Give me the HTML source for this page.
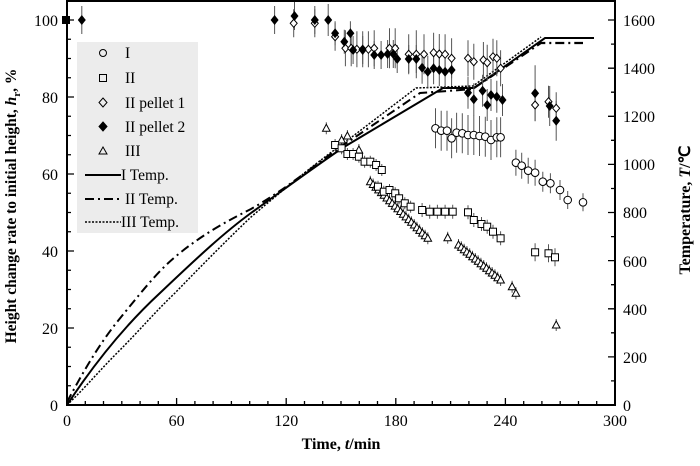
<!DOCTYPE html>
<html><head><meta charset="utf-8"><style>
html,body{margin:0;padding:0;background:#fff;}
svg{display:block;font-family:"Liberation Serif",serif;}
</style></head><body>
<svg width="700" height="466" viewBox="0 0 700 466" xmlns="http://www.w3.org/2000/svg">
<rect x="77" y="42" width="121" height="191" fill="#ececec"/>
<g fill="none" stroke="#000">
<path d="M67,405 C90,370 120,330 160,293 C200,255 225,232 251,213 C290,185 320,163 344,147 L443,88 L474,88 L545,38 L594,38" stroke-width="2"/>
<path d="M67,402 C80,378 95,350 117,322 C140,294 155,274 175,257 C200,236 225,222 251,209 C290,187 320,160 351,140 L420,93 L474,89" stroke-width="2" stroke-dasharray="9,4,2,4"/>
<path d="M474,88 L541,43 L583,43" stroke-width="2.2" stroke-dasharray="9,4,2,4"/>
<path d="M67,405 C85,388 100,370 117,353 C140,330 155,312 175,293 C205,262 230,237 251,217 C290,184 320,160 344,143 L416,88 L473,86 L541,37" stroke-width="1.5" stroke-dasharray="2,1.5"/>
</g>

<g stroke="#555" stroke-width="1" fill="none">
<path d="M326.3,122.3V134.3M341.6,134V146M347.4,130V142M358.9,144V156M370.3,175.7V187.7M373.1,178.5V190.5M375.8,181.2V193.2M378.5,183.9V195.9M381.3,186.6V198.6M384,189.3V201.3M386.8,192V204M389.5,194.7V206.7M392.2,197.4V209.4M395,200.1V212.1M397.7,202.8V214.8M400.5,205.5V217.5M403.2,208.2V220.2M405.9,210.9V222.9M408.7,213.6V225.6M411.4,216.3V228.3M414.2,219V231M416.9,221.7V233.7M419.6,224.4V236.4M422.4,227.1V239.1M425.1,229.8V241.8M427.8,232.3V244.3M447.7,231.7V243.7M458.5,239V251M461.3,241.3V253.3M464.1,243.7V255.7M466.9,246V258M469.7,248.3V260.3M472.5,250.7V262.7M475.3,253V265M478.1,255.3V267.3M480.9,257.7V269.7M483.7,260V272M486.5,262.3V274.3M489.3,264.7V276.7M492.1,267V279M494.9,269.3V281.3M497.7,271.7V283.7M500.6,274V286M512.1,280.7V292.7M515.9,287.3V299.3M556.2,319V331"/>
<path d="M335.1,139V151M341.6,142.3V154.3M347.4,148V160M353.1,148V160M358.9,150.7V162.7M364.6,155.7V167.7M370.3,155.7V167.7M376.1,159V171M381.8,164V176M378,180.7V192.7M383.8,185.7V197.7M389.5,184V196M395.2,187.3V199.3M399.1,192.3V204.3M404.8,197.3V209.3M410.6,200.7V212.7M422.1,203V217M429.7,204.7V218.7M437.4,204.7V218.7M445.1,204.7V218.7M452.7,204.7V218.7M468,205.3V219.3M473.8,213V227M481.5,217V231M487.2,219.7V233.7M493,224.7V238.7M500.6,231.3V245.3M535.1,243.3V261.3M548.5,244.3V262.3M555,248.3V266.3"/>
<path d="M435.5,108.3V148.3M441.2,110.7V150.7M447,110.7V150.7M451.6,118.3V158.3M456.6,112.7V152.7M462.3,113.3V153.3M468,115V155M473.8,115V155M479.5,116V156M485.3,116.7V156.7M491,120V160M496.8,117.3V157.3M500.6,117.3V157.3M515.9,149.7V175.7M521.7,152.7V178.7M528.2,157.7V183.7M535.1,159.7V185.7M542.8,171.7V191.7M550.4,173.3V193.3M560,180V200M567.7,191V209M583,193.3V211.3"/>
<path d="M293.7,9.3V37.3M314.8,9.3V37.3M335.1,22.7V50.7M345.4,30.3V66.3M351.2,30.3V66.3M356.9,31.3V67.3M362.7,31.3V67.3M368.4,31.3V67.3M374.2,30.3V66.3M389.5,28.3V68.3M395.2,28.3V68.3M408.7,34.3V74.3M416.3,30.3V78.3M424,34.3V74.3M433.6,32.7V72.7M439.3,34V74M445.1,34.3V74.3M451.6,38.3V78.3M468,40.3V76.3M473.8,43.7V79.7M483.4,42V78M487.2,44.7V80.7M493,38.7V74.7M496.8,40.3V76.3M500.6,50.3V86.3M535.1,89V121M548.5,85.7V117.7M556.2,92.3V124.3"/>
<path d="M81.8,6V34M274.6,6V34M294.5,2V30M314.8,6V34M328.2,4V36M335.1,21.3V45.3M344.3,29.7V53.7M350.4,21.3V45.3M353.1,36V64M362.7,36V64M374.2,41V69M381.1,41V69M387.6,40V68M393.3,40V68M397.2,45V73M408.7,45V73M416.3,45V73M422.1,51.7V83.7M427.8,55.7V87.7M433.6,52.3V84.3M439.3,54V86M445.1,55.7V87.7M451.6,54V86M468,76.7V108.7M473.8,83.3V115.3M482.6,74.7V106.7M487.2,89V121M491,79V111M496.8,80.7V112.7M502.5,84V116M535.1,65.3V121.3M549.7,86V126M556.2,100.7V140.7"/>
</g>

<g fill="#fff" stroke="#000" stroke-width="1">
<g>
<path transform="translate(326.3,128.3)" d="M0,-4L3.8,3H-3.8Z"/><path transform="translate(341.6,140)" d="M0,-4L3.8,3H-3.8Z"/><path transform="translate(347.4,136)" d="M0,-4L3.8,3H-3.8Z"/><path transform="translate(358.9,150)" d="M0,-4L3.8,3H-3.8Z"/>
<path transform="translate(370.3,181.7)" d="M0,-4L3.8,3H-3.8Z"/><path transform="translate(373.1,184.5)" d="M0,-4L3.8,3H-3.8Z"/><path transform="translate(375.8,187.2)" d="M0,-4L3.8,3H-3.8Z"/><path transform="translate(378.5,189.9)" d="M0,-4L3.8,3H-3.8Z"/><path transform="translate(381.3,192.6)" d="M0,-4L3.8,3H-3.8Z"/><path transform="translate(384,195.3)" d="M0,-4L3.8,3H-3.8Z"/><path transform="translate(386.8,198)" d="M0,-4L3.8,3H-3.8Z"/><path transform="translate(389.5,200.7)" d="M0,-4L3.8,3H-3.8Z"/><path transform="translate(392.2,203.4)" d="M0,-4L3.8,3H-3.8Z"/><path transform="translate(395,206.1)" d="M0,-4L3.8,3H-3.8Z"/><path transform="translate(397.7,208.8)" d="M0,-4L3.8,3H-3.8Z"/><path transform="translate(400.5,211.5)" d="M0,-4L3.8,3H-3.8Z"/><path transform="translate(403.2,214.2)" d="M0,-4L3.8,3H-3.8Z"/><path transform="translate(405.9,216.9)" d="M0,-4L3.8,3H-3.8Z"/><path transform="translate(408.7,219.6)" d="M0,-4L3.8,3H-3.8Z"/><path transform="translate(411.4,222.3)" d="M0,-4L3.8,3H-3.8Z"/><path transform="translate(414.2,225)" d="M0,-4L3.8,3H-3.8Z"/><path transform="translate(416.9,227.7)" d="M0,-4L3.8,3H-3.8Z"/><path transform="translate(419.6,230.4)" d="M0,-4L3.8,3H-3.8Z"/><path transform="translate(422.4,233.1)" d="M0,-4L3.8,3H-3.8Z"/><path transform="translate(425.1,235.8)" d="M0,-4L3.8,3H-3.8Z"/><path transform="translate(427.8,238.3)" d="M0,-4L3.8,3H-3.8Z"/>
<path transform="translate(447.7,237.7)" d="M0,-4L3.8,3H-3.8Z"/>
<path transform="translate(458.5,245)" d="M0,-4L3.8,3H-3.8Z"/><path transform="translate(461.3,247.3)" d="M0,-4L3.8,3H-3.8Z"/><path transform="translate(464.1,249.7)" d="M0,-4L3.8,3H-3.8Z"/><path transform="translate(466.9,252)" d="M0,-4L3.8,3H-3.8Z"/><path transform="translate(469.7,254.3)" d="M0,-4L3.8,3H-3.8Z"/><path transform="translate(472.5,256.7)" d="M0,-4L3.8,3H-3.8Z"/><path transform="translate(475.3,259)" d="M0,-4L3.8,3H-3.8Z"/><path transform="translate(478.1,261.3)" d="M0,-4L3.8,3H-3.8Z"/><path transform="translate(480.9,263.7)" d="M0,-4L3.8,3H-3.8Z"/><path transform="translate(483.7,266)" d="M0,-4L3.8,3H-3.8Z"/><path transform="translate(486.5,268.3)" d="M0,-4L3.8,3H-3.8Z"/><path transform="translate(489.3,270.7)" d="M0,-4L3.8,3H-3.8Z"/><path transform="translate(492.1,273)" d="M0,-4L3.8,3H-3.8Z"/><path transform="translate(494.9,275.3)" d="M0,-4L3.8,3H-3.8Z"/><path transform="translate(497.7,277.7)" d="M0,-4L3.8,3H-3.8Z"/><path transform="translate(500.6,280)" d="M0,-4L3.8,3H-3.8Z"/>
<path transform="translate(512.1,286.7)" d="M0,-4L3.8,3H-3.8Z"/><path transform="translate(515.9,293.3)" d="M0,-4L3.8,3H-3.8Z"/><path transform="translate(556.2,325)" d="M0,-4L3.8,3H-3.8Z"/>
</g>
<g>
<rect x="331.6" y="141.5" width="7" height="7"/><rect x="338.1" y="144.8" width="7" height="7"/><rect x="343.9" y="150.5" width="7" height="7"/><rect x="349.6" y="150.5" width="7" height="7"/><rect x="355.4" y="153.2" width="7" height="7"/><rect x="361.1" y="158.2" width="7" height="7"/><rect x="366.8" y="158.2" width="7" height="7"/><rect x="372.6" y="161.5" width="7" height="7"/><rect x="378.3" y="166.5" width="7" height="7"/><rect x="374.5" y="183.2" width="7" height="7"/><rect x="380.3" y="188.2" width="7" height="7"/><rect x="386" y="186.5" width="7" height="7"/><rect x="391.7" y="189.8" width="7" height="7"/><rect x="395.6" y="194.8" width="7" height="7"/><rect x="401.3" y="199.8" width="7" height="7"/><rect x="407.1" y="203.2" width="7" height="7"/><rect x="418.6" y="206.5" width="7" height="7"/><rect x="426.2" y="208.2" width="7" height="7"/><rect x="433.9" y="208.2" width="7" height="7"/><rect x="441.6" y="208.2" width="7" height="7"/><rect x="449.2" y="208.2" width="7" height="7"/><rect x="464.5" y="208.8" width="7" height="7"/><rect x="470.3" y="216.5" width="7" height="7"/><rect x="478" y="220.5" width="7" height="7"/><rect x="483.7" y="223.2" width="7" height="7"/><rect x="489.5" y="228.2" width="7" height="7"/><rect x="497.1" y="234.8" width="7" height="7"/><rect x="531.6" y="248.8" width="7" height="7"/><rect x="545" y="249.8" width="7" height="7"/><rect x="551.5" y="253.8" width="7" height="7"/>
</g>
<g>
<circle cx="435.5" cy="128.3" r="3.8"/><circle cx="441.2" cy="130.7" r="3.8"/><circle cx="447" cy="130.7" r="3.8"/><circle cx="451.6" cy="138.3" r="3.8"/><circle cx="456.6" cy="132.7" r="3.8"/><circle cx="462.3" cy="133.3" r="3.8"/><circle cx="468" cy="135" r="3.8"/><circle cx="473.8" cy="135" r="3.8"/><circle cx="479.5" cy="136" r="3.8"/><circle cx="485.3" cy="136.7" r="3.8"/><circle cx="491" cy="140" r="3.8"/><circle cx="496.8" cy="137.3" r="3.8"/><circle cx="500.6" cy="137.3" r="3.8"/><circle cx="515.9" cy="162.7" r="3.8"/><circle cx="521.7" cy="165.7" r="3.8"/><circle cx="528.2" cy="170.7" r="3.8"/><circle cx="535.1" cy="172.7" r="3.8"/><circle cx="542.8" cy="181.7" r="3.8"/><circle cx="550.4" cy="183.3" r="3.8"/><circle cx="560" cy="190" r="3.8"/><circle cx="567.7" cy="200" r="3.8"/><circle cx="583" cy="202.3" r="3.8"/>
</g>
<g>
<path transform="translate(293.7,23.3)" d="M0,-4L3.5,0L0,4L-3.5,0Z"/><path transform="translate(314.8,23.3)" d="M0,-4L3.5,0L0,4L-3.5,0Z"/><path transform="translate(335.1,36.7)" d="M0,-4L3.5,0L0,4L-3.5,0Z"/><path transform="translate(345.4,48.3)" d="M0,-4L3.5,0L0,4L-3.5,0Z"/><path transform="translate(351.2,48.3)" d="M0,-4L3.5,0L0,4L-3.5,0Z"/><path transform="translate(356.9,49.3)" d="M0,-4L3.5,0L0,4L-3.5,0Z"/><path transform="translate(362.7,49.3)" d="M0,-4L3.5,0L0,4L-3.5,0Z"/><path transform="translate(368.4,49.3)" d="M0,-4L3.5,0L0,4L-3.5,0Z"/><path transform="translate(374.2,48.3)" d="M0,-4L3.5,0L0,4L-3.5,0Z"/><path transform="translate(389.5,48.3)" d="M0,-4L3.5,0L0,4L-3.5,0Z"/><path transform="translate(395.2,48.3)" d="M0,-4L3.5,0L0,4L-3.5,0Z"/><path transform="translate(408.7,54.3)" d="M0,-4L3.5,0L0,4L-3.5,0Z"/><path transform="translate(416.3,54.3)" d="M0,-4L3.5,0L0,4L-3.5,0Z"/><path transform="translate(424,54.3)" d="M0,-4L3.5,0L0,4L-3.5,0Z"/><path transform="translate(433.6,52.7)" d="M0,-4L3.5,0L0,4L-3.5,0Z"/><path transform="translate(439.3,54)" d="M0,-4L3.5,0L0,4L-3.5,0Z"/><path transform="translate(445.1,54.3)" d="M0,-4L3.5,0L0,4L-3.5,0Z"/><path transform="translate(451.6,58.3)" d="M0,-4L3.5,0L0,4L-3.5,0Z"/><path transform="translate(468,58.3)" d="M0,-4L3.5,0L0,4L-3.5,0Z"/><path transform="translate(473.8,61.7)" d="M0,-4L3.5,0L0,4L-3.5,0Z"/><path transform="translate(483.4,60)" d="M0,-4L3.5,0L0,4L-3.5,0Z"/><path transform="translate(487.2,62.7)" d="M0,-4L3.5,0L0,4L-3.5,0Z"/><path transform="translate(493,56.7)" d="M0,-4L3.5,0L0,4L-3.5,0Z"/><path transform="translate(496.8,58.3)" d="M0,-4L3.5,0L0,4L-3.5,0Z"/><path transform="translate(500.6,68.3)" d="M0,-4L3.5,0L0,4L-3.5,0Z"/><path transform="translate(535.1,105)" d="M0,-4L3.5,0L0,4L-3.5,0Z"/><path transform="translate(548.5,101.7)" d="M0,-4L3.5,0L0,4L-3.5,0Z"/><path transform="translate(556.2,108.3)" d="M0,-4L3.5,0L0,4L-3.5,0Z"/>
</g>
<g fill="#000" stroke="none">
<path transform="translate(81.8,20)" d="M0,-5L4,0L0,5L-4,0Z"/><path transform="translate(274.6,20)" d="M0,-5L4,0L0,5L-4,0Z"/><path transform="translate(294.5,16)" d="M0,-5L4,0L0,5L-4,0Z"/><path transform="translate(314.8,20)" d="M0,-5L4,0L0,5L-4,0Z"/><path transform="translate(328.2,20)" d="M0,-5L4,0L0,5L-4,0Z"/><path transform="translate(335.1,33.3)" d="M0,-5L4,0L0,5L-4,0Z"/><path transform="translate(344.3,41.7)" d="M0,-5L4,0L0,5L-4,0Z"/><path transform="translate(350.4,33.3)" d="M0,-5L4,0L0,5L-4,0Z"/><path transform="translate(353.1,50)" d="M0,-5L4,0L0,5L-4,0Z"/><path transform="translate(362.7,50)" d="M0,-5L4,0L0,5L-4,0Z"/><path transform="translate(374.2,55)" d="M0,-5L4,0L0,5L-4,0Z"/><path transform="translate(381.1,55)" d="M0,-5L4,0L0,5L-4,0Z"/><path transform="translate(387.6,54)" d="M0,-5L4,0L0,5L-4,0Z"/><path transform="translate(393.3,54)" d="M0,-5L4,0L0,5L-4,0Z"/><path transform="translate(397.2,59)" d="M0,-5L4,0L0,5L-4,0Z"/><path transform="translate(408.7,59)" d="M0,-5L4,0L0,5L-4,0Z"/><path transform="translate(416.3,59)" d="M0,-5L4,0L0,5L-4,0Z"/><path transform="translate(422.1,67.7)" d="M0,-5L4,0L0,5L-4,0Z"/><path transform="translate(427.8,71.7)" d="M0,-5L4,0L0,5L-4,0Z"/><path transform="translate(433.6,68.3)" d="M0,-5L4,0L0,5L-4,0Z"/><path transform="translate(439.3,70)" d="M0,-5L4,0L0,5L-4,0Z"/><path transform="translate(445.1,71.7)" d="M0,-5L4,0L0,5L-4,0Z"/><path transform="translate(451.6,70)" d="M0,-5L4,0L0,5L-4,0Z"/><path transform="translate(468,92.7)" d="M0,-5L4,0L0,5L-4,0Z"/><path transform="translate(473.8,99.3)" d="M0,-5L4,0L0,5L-4,0Z"/><path transform="translate(482.6,90.7)" d="M0,-5L4,0L0,5L-4,0Z"/><path transform="translate(487.2,105)" d="M0,-5L4,0L0,5L-4,0Z"/><path transform="translate(491,95)" d="M0,-5L4,0L0,5L-4,0Z"/><path transform="translate(496.8,96.7)" d="M0,-5L4,0L0,5L-4,0Z"/><path transform="translate(502.5,100)" d="M0,-5L4,0L0,5L-4,0Z"/><path transform="translate(535.1,93.3)" d="M0,-5L4,0L0,5L-4,0Z"/><path transform="translate(549.7,106)" d="M0,-5L4,0L0,5L-4,0Z"/><path transform="translate(556.2,120.7)" d="M0,-5L4,0L0,5L-4,0Z"/>
<rect x="62" y="16" width="8" height="8"/>
</g>
</g>

<rect x="67" y="1" width="548" height="404" stroke="#000" stroke-width="2" fill="none"/>
<g stroke="#000" stroke-width="1.3" fill="none">
<path d="M67,405v-7M85.3,405v-4M103.5,405v-4M121.8,405v-4M140.1,405v-4M158.3,405v-4M176.6,405v-7M194.9,405v-4M213.1,405v-4M231.4,405v-4M249.7,405v-4M267.9,405v-4M286.2,405v-7M304.5,405v-4M322.7,405v-4M341,405v-4M359.3,405v-4M377.5,405v-4M395.8,405v-7M414.1,405v-4M432.3,405v-4M450.6,405v-4M468.9,405v-4M487.1,405v-4M505.4,405v-7M523.7,405v-4M541.9,405v-4M560.2,405v-4M578.5,405v-4M596.7,405v-4M615,405v-7"/>
<path d="M67,385.75h4M67,366.5h4M67,347.25h4M67,328h7M67,308.75h4M67,289.5h4M67,270.25h4M67,251h7M67,231.75h4M67,212.5h4M67,193.25h4M67,174h7M67,154.75h4M67,135.5h4M67,116.25h4M67,97h7M67,77.75h4M67,58.5h4M67,39.25h4M67,20h7"/>
<path d="M615,380.9h-4M615,356.9h-7M615,332.8h-4M615,308.8h-7M615,284.7h-4M615,260.6h-7M615,236.6h-4M615,212.5h-7M615,188.5h-4M615,164.4h-7M615,140.3h-4M615,116.3h-7M615,92.2h-4M615,68.2h-7M615,44.1h-4M615,20h-7"/>
</g>

<g font-size="16" fill="#000">
<text x="58" y="411" text-anchor="end">0</text>
<text x="58" y="334" text-anchor="end">20</text>
<text x="58" y="257" text-anchor="end">40</text>
<text x="58" y="180" text-anchor="end">60</text>
<text x="58" y="103" text-anchor="end">80</text>
<text x="58" y="26" text-anchor="end">100</text>
<text x="623" y="411">0</text>
<text x="623" y="363">200</text>
<text x="623" y="315">400</text>
<text x="623" y="267">600</text>
<text x="623" y="218">800</text>
<text x="623" y="170">1000</text>
<text x="623" y="122">1200</text>
<text x="623" y="74">1400</text>
<text x="623" y="26">1600</text>
<g text-anchor="middle">
<text x="67" y="426">0</text>
<text x="176.6" y="426">60</text>
<text x="286.2" y="426">120</text>
<text x="395.8" y="426">180</text>
<text x="505.4" y="426">240</text>
<text x="615" y="426">300</text>
</g>
<text x="341" y="449" text-anchor="middle" font-weight="bold">Time, <tspan font-style="italic">t</tspan>/min</text>
<text transform="translate(16,206) rotate(-90)" text-anchor="middle" font-weight="bold" font-size="15.5">Height change rate to initial height, <tspan font-style="italic">h</tspan><tspan font-size="11" dy="4">r</tspan><tspan dy="-4">, %</tspan></text>
<text transform="translate(690,210) rotate(-90)" text-anchor="middle" font-weight="bold" font-size="16">Temperature, <tspan font-style="italic">T</tspan>/℃</text>
</g>

<g font-size="15.5">
<text x="125" y="58">I</text>
<text x="125" y="83">II</text>
<text x="125" y="108">II pellet 1</text>
<text x="125" y="132">II pellet 2</text>
<text x="125" y="156">III</text>
<text x="121" y="180">I Temp.</text>
<text x="125" y="204">II Temp.</text>
<text x="121" y="227">III Temp.</text>
<g fill="none" stroke="#000">
<circle cx="103" cy="53" r="3.5"/>
<rect x="99.5" y="74.5" width="7" height="7"/>
<path d="M103,98 L107,102.5 L103,107 L99,102.5Z"/>
<path d="M103,122 L107,126.5 L103,131 L99,126.5Z" fill="#000"/>
<path d="M103,147 L107,154 L99,154Z"/>
<path d="M85,175 L121,175" stroke-width="2"/>
<path d="M85,199 L121,199" stroke-width="2" stroke-dasharray="9,4,2,4"/>
<path d="M85,222 L121,222" stroke-width="1.5" stroke-dasharray="2,1.5"/>
</g>
</g>
</svg>
</body></html>
